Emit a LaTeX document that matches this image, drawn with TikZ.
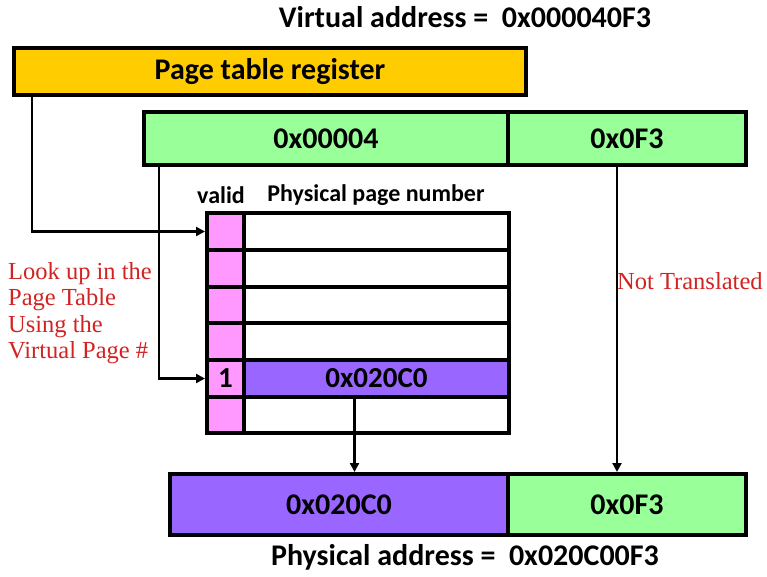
\documentclass[tikz,border=0pt]{standalone}
\usepackage{fontspec}
\setmainfont{Carlito}
\newfontfamily\serifred{Liberation Serif}
\usetikzlibrary{arrows.meta}
\definecolor{ptryellow}{RGB}{255,204,0}
\definecolor{vagreen}{RGB}{153,255,153}
\definecolor{ppurple}{RGB}{153,102,255}
\definecolor{vpink}{RGB}{255,153,255}
\definecolor{notered}{RGB}{210,35,35}
\tikzset{
  box/.style={draw=black, line width=4pt, anchor=north west, inner sep=0pt,
    font=\fontsize{30}{32}\selectfont\bfseries},
  cell/.style={draw=black, line width=4pt, anchor=north west, inner sep=0pt,
    font=\fontsize{29}{30}\selectfont\bfseries, minimum height=37pt},
  conn/.style={line width=2.8pt, -{Triangle[length=9pt,width=9pt]}},
  title/.style={font=\fontsize{30}{32}\selectfont\bfseries},
  head/.style={font=\fontsize{24}{26}\selectfont\bfseries},
  note/.style={text=notered, font=\serifred\fontsize{24.5}{26.5}\selectfont, align=left}
}
\begin{document}
\begin{tikzpicture}[x=1pt,y=-1pt]
\useasboundingbox (0,0) rectangle (767,577);
\node[title] (vatitle) at (465,17) {Virtual address =\ \ 0x000040F3};
\node[box, fill=ptryellow, minimum width=512pt, minimum height=47pt] (ptr) at (12,46) {Page table register};
\node[box, fill=vagreen, minimum width=364pt, minimum height=53pt] (vpn) at (142,110) {0x00004};
\node[box, fill=vagreen, minimum width=238pt, minimum height=53pt] (off) at (506,110) {0x0F3};
\node[head] (validlbl) at (221,195) {valid};
\node[head] (ppnlbl) at (376,195) {Physical page number};
% table
\foreach \i/\y in {1/211,2/248,3/285,4/321,5/358,6/394}{
  \node[cell, fill=vpink, minimum width=37pt] (v\i) at (205,\y) {};
  \node[cell, fill=white, minimum width=265pt] (p\i) at (242,\y) {};
}
\node[cell, fill=vpink, minimum width=37pt] (v5b) at (205,358) {1};
\node[cell, fill=ppurple, minimum width=265pt] (p5b) at (242,358) {0x020C0};
% physical address
\node[box, fill=ppurple, minimum width=338pt, minimum height=61pt] (ppn) at (168,472) {0x020C0};
\node[box, fill=vagreen, minimum width=238pt, minimum height=61pt] (poff) at (506,472) {0x0F3};
\node[title] (patitle) at (465,557) {Physical address =\ \ 0x020C00F3};
% connectors
\draw[conn] ([xshift=20pt]ptr.south west) |- (v1.west);
\draw[conn] ([xshift=17pt]vpn.south west) |- (v5b.west);
\draw[conn] ([xshift=-10pt]off.south) -- ([xshift=-10pt]poff.north);
\draw[conn] ([xshift=-22pt]p5b.south) -- ([xshift=-22pt]p5b.south |- ppn.north);
% notes
\node[note, anchor=north west, inner sep=0pt] (lookup) at (8,262) {Look up in the\\Page Table\\Using the\\Virtual Page \#};
\node[note, anchor=west, inner sep=0pt] (nottr) at (617,281) {Not Translated};
\end{tikzpicture}
\end{document}
